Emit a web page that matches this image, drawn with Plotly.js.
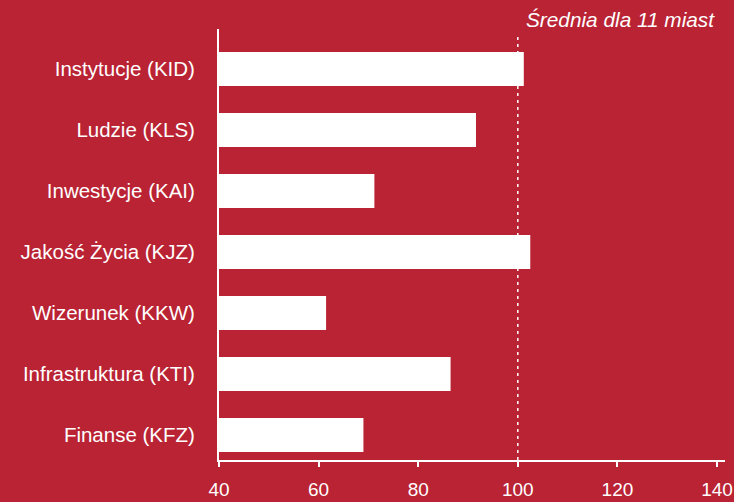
<!DOCTYPE html>
<html>
<head>
<meta charset="utf-8">
<script src="https://cdn.plot.ly/plotly-3.0.1.min.js"></script>
<style>
  html, body { margin: 0; padding: 0; background: #B92334; }
  #chart { width: 734px; height: 502px; }
</style>
</head>
<body>
<div id="chart"></div>
<script>
const categories = [
  "Instytucje (KID)",
  "Ludzie (KLS)",
  "Inwestycje (KAI)",
  "Jakość Życia (KJZ)",
  "Wizerunek (KKW)",
  "Infrastruktura (KTI)",
  "Finanse (KFZ)"
];
const values = [101.2, 91.6, 71.2, 102.5, 61.5, 86.5, 69.0];
const tickValues = [40, 60, 80, 100, 120, 140];
const averageValue = 100;
const averageLabel = "Średnia dla 11 miast";

const bg = "#B92334";
const font = "'Liberation Sans', Arial, Helvetica, sans-serif";

const trace = {
  type: "bar",
  orientation: "h",
  y: categories,
  x: values.map(v => v - 40),
  base: 40,
  width: 0.557,
  marker: { color: "#FFFFFF", line: { width: 0 } },
  hoverinfo: "skip"
};

const layout = {
  width: 734,
  height: 502,
  paper_bgcolor: bg,
  plot_bgcolor: bg,
  margin: { l: 219, r: 9, t: 29, b: 42, pad: 0 },
  showlegend: false,
  font: { family: font, color: "#FFFFFF", size: 20 },
  xaxis: {
    range: [40, 141.6],
    tickvals: tickValues,
    ticktext: tickValues.map(String),
    showgrid: false,
    zeroline: false,
    showline: true,
    linecolor: "#FFFFFF",
    linewidth: 2,
    ticks: "outside",
    ticklen: 5,
    tickwidth: 2,
    tickcolor: "#FFFFFF",
    tickfont: { family: font, size: 19, color: "#FFFFFF" },
    ticklabelstandoff: 6,
    fixedrange: true
  },
  yaxis: {
    type: "category",
    categoryorder: "array",
    categoryarray: categories,
    range: [6.41, -0.656],
    showgrid: false,
    zeroline: false,
    showline: true,
    linecolor: "#FFFFFF",
    linewidth: 2,
    ticks: "",
    tickfont: { family: font, size: 20.5, color: "#FFFFFF" },
    ticklabelstandoff: 18,
    fixedrange: true
  },
  shapes: [{
    type: "line",
    xref: "x", yref: "paper",
    x0: averageValue, x1: averageValue,
    y0: 0, y1: 0.986,
    line: { color: "#FFFFFF", width: 1.5, dash: "3px,4px" },
    layer: "above"
  }],
  annotations: [{
    text: averageLabel,
    xref: "paper", yref: "paper",
    x: 0.984, y: 1.023,
    xanchor: "right", yanchor: "middle",
    showarrow: false,
    font: { family: font, size: 20.8, color: "#FFFFFF", style: "italic" }
  }]
};

Plotly.newPlot("chart", [trace], layout, { staticPlot: true, displayModeBar: false });
</script>
</body>
</html>
